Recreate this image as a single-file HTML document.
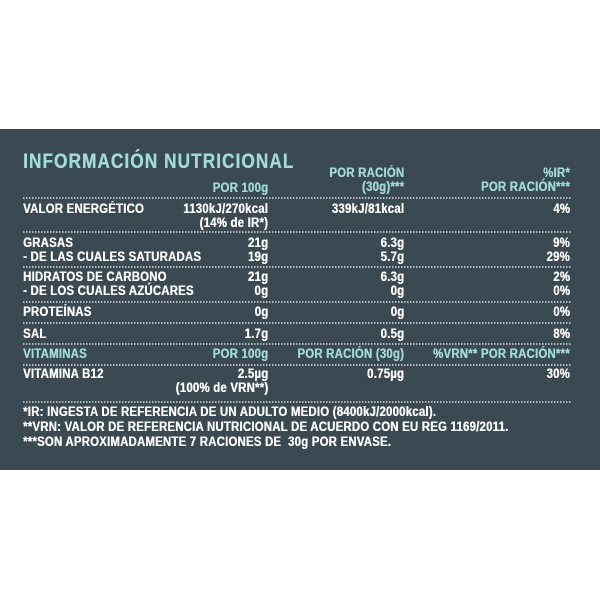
<!DOCTYPE html>
<html><head><meta charset="utf-8"><style>
html,body{margin:0;padding:0;background:#fff;}
#p{position:absolute;left:0;top:129px;width:600px;height:341px;background:#3b4a52;}
.t{position:absolute;font-family:"Liberation Sans Narrow","Liberation Sans",sans-serif;font-weight:bold;font-size:13.5px;color:#fff;white-space:nowrap;line-height:14px;letter-spacing:0.3px;transform:scaleX(0.84);transform-origin:left top;text-shadow:0.4px 0 0 currentColor;}
.t[style*="right"]{transform-origin:right top;}
.c{color:#9fdcd6;}
.r{text-align:right;}
.d{position:absolute;left:23px;width:548px;height:2px;background-image:linear-gradient(to right,#aeb8bc 50%,transparent 50%);background-size:3px 2px;}
</style></head><body>
<div id="p"></div>
<div class="t c" style="left:23px;top:151px;font-size:21px;line-height:22px;letter-spacing:1.3px;transform:scaleX(0.82);">INFORMACIÓN NUTRICIONAL</div>
<div class="t c" style="right:332px;top:181px;">POR 100g</div>
<div class="t c r" style="right:196px;top:166px;">POR RACIÓN<br>(30g)***</div>
<div class="t c r" style="right:30px;top:166px;">%IR*<br>POR RACIÓN***</div>
<div class="d" style="top:197px"></div>
<div class="t" style="left:23px;top:202px;">VALOR ENERGÉTICO</div>
<div class="t r" style="right:332px;top:202px;">1130kJ/270kcal<br>(14% de IR*)</div>
<div class="t" style="right:196px;top:202px;">339kJ/81kcal</div>
<div class="t" style="right:30px;top:202px;">4%</div>
<div class="d" style="top:231px"></div>
<div class="t" style="left:23px;top:236px;">GRASAS<br>- DE LAS CUALES SATURADAS</div>
<div class="t r" style="right:332px;top:236px;">21g<br>19g</div>
<div class="t r" style="right:196px;top:236px;">6.3g<br>5.7g</div>
<div class="t r" style="right:30px;top:236px;">9%<br>29%</div>
<div class="d" style="top:266px"></div>
<div class="t" style="left:23px;top:270px;">HIDRATOS DE CARBONO<br>- DE LOS CUALES AZÚCARES</div>
<div class="t r" style="right:332px;top:270px;">21g<br>0g</div>
<div class="t r" style="right:196px;top:270px;">6.3g<br>0g</div>
<div class="t r" style="right:30px;top:270px;">2%<br>0%</div>
<div class="d" style="top:301px"></div>
<div class="t" style="left:23px;top:305px;">PROTEÍNAS</div>
<div class="t" style="right:332px;top:305px;">0g</div>
<div class="t" style="right:196px;top:305px;">0g</div>
<div class="t" style="right:30px;top:305px;">0%</div>
<div class="d" style="top:322px"></div>
<div class="t" style="left:23px;top:327px;">SAL</div>
<div class="t" style="right:332px;top:327px;">1.7g</div>
<div class="t" style="right:196px;top:327px;">0.5g</div>
<div class="t" style="right:30px;top:327px;">8%</div>
<div class="d" style="top:343px"></div>
<div class="t c" style="left:23px;top:347px;">VITAMINAS</div>
<div class="t c" style="right:332px;top:347px;">POR 100g</div>
<div class="t c" style="right:196px;top:347px;">POR RACIÓN (30g)</div>
<div class="t c" style="right:30px;top:347px;">%VRN** POR RACIÓN***</div>
<div class="d" style="top:364px"></div>
<div class="t" style="left:23px;top:367px;">VITAMINA B12</div>
<div class="t r" style="right:332px;top:367px;">2.5µg<br>(100% de VRN**)</div>
<div class="t" style="right:196px;top:367px;">0.75µg</div>
<div class="t" style="right:30px;top:367px;">30%</div>
<div class="d" style="top:401px"></div>
<div class="t" style="left:23px;top:404px;line-height:15px;">*IR: INGESTA DE REFERENCIA DE UN ADULTO MEDIO (8400kJ/2000kcal).<br>**VRN: VALOR DE REFERENCIA NUTRICIONAL DE ACUERDO CON EU REG 1169/2011.<br>***SON APROXIMADAMENTE 7 RACIONES DE&nbsp; 30g POR ENVASE.</div>
</body></html>
